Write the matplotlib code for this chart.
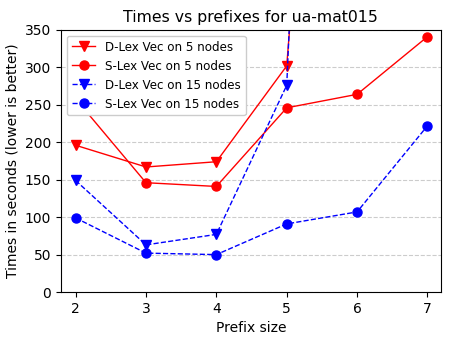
import matplotlib
matplotlib.use("Agg")
import matplotlib.pyplot as plt

prefix = [2, 3, 4, 5, 6, 7]

# D-Lex lines shoot off the top of the chart after prefix 5
dlex5_x = [2, 3, 4, 5, 6]
dlex5 = [196, 167, 174, 302, 1500]
slex5 = [258, 146, 141, 246, 264, 341]
dlex15_x = [2, 3, 4, 5, 6]
dlex15 = [149, 63, 77, 276, 2400]
slex15 = [99, 52, 50, 91, 107, 222]

fig, ax = plt.subplots(figsize=(4.54, 3.4), dpi=100)

ms = 6.5
ax.plot(dlex5_x, dlex5, color="red", marker="v", markersize=ms, linewidth=1,
        label="D-Lex Vec on 5 nodes")
ax.plot(prefix, slex5, color="red", marker="o", markersize=ms, linewidth=1,
        label="S-Lex Vec on 5 nodes")
ax.plot(dlex15_x, dlex15, color="blue", marker="v", markersize=ms, linewidth=1,
        linestyle="--", label="D-Lex Vec on 15 nodes")
ax.plot(prefix, slex15, color="blue", marker="o", markersize=ms, linewidth=1,
        linestyle="--", label="S-Lex Vec on 15 nodes")

ax.set_xlim(1.79, 7.19)
ax.set_ylim(0, 350)
ax.set_xticks(prefix)
ax.set_xlabel("Prefix size", fontsize=10)
ax.set_ylabel("Times in seconds (lower is better)", fontsize=10)
ax.set_title("Times vs prefixes for ua-mat015", fontsize=11.3)
ax.tick_params(labelsize=10)
ax.yaxis.grid(True, linestyle="--", color="#cccccc", linewidth=0.8)
ax.set_axisbelow(True)
ax.legend(loc="upper left", fontsize=8.6, framealpha=1)

fig.subplots_adjust(left=0.134, right=0.971, top=0.912, bottom=0.141)
fig.savefig("out.png", dpi=100)
